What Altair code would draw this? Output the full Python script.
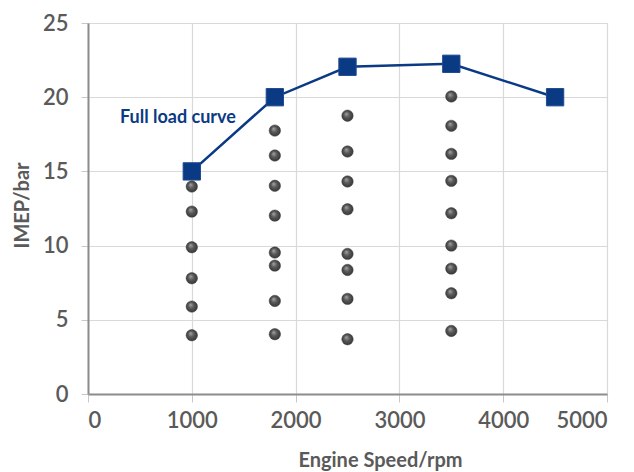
import altair as alt
import pandas as pd

# Operating points (engine speed in rpm, IMEP in bar)
op_speed = [1000, 1000, 1000, 1000, 1000, 1000,
            1800, 1800, 1800, 1800, 1800, 1800, 1800, 1800,
            2500, 2500, 2500, 2500, 2500, 2500, 2500, 2500,
            3500, 3500, 3500, 3500, 3500, 3500, 3500, 3500, 3500]
op_imep = [13.98, 12.29, 9.89, 7.80, 5.89, 3.96,
           17.75, 16.07, 14.03, 12.02, 9.53, 8.65, 6.27, 4.03,
           18.75, 16.34, 14.32, 12.45, 9.44, 8.36, 6.41, 3.69,
           20.05, 18.07, 16.18, 14.36, 12.18, 10.0, 8.45, 6.79, 4.25]

# Full load curve
fl_speed = [1000, 1800, 2500, 3500, 4500]
fl_imep = [15.0, 20.0, 22.05, 22.25, 20.0]

# Annotation
label_text = ["Full load curve"]
label_speed = [308]
label_imep = [18.24]

x_ticks = [0, 1000, 2000, 3000, 4000, 5000]
y_ticks = [0, 5, 10, 15, 20, 25]

NAVY = "#0b3a85"
GRAY_TXT = "#5a5a5a"
FONT = "Lato"

ops = pd.DataFrame({"speed": op_speed, "imep": op_imep})
fl = pd.DataFrame({"speed": fl_speed, "imep": fl_imep})
lab = pd.DataFrame({"speed": label_speed, "imep": label_imep, "text": label_text})

x_enc = alt.X(
    "speed:Q",
    scale=alt.Scale(domain=[0, 5000], nice=False),
    axis=alt.Axis(
        values=x_ticks, title="Engine Speed/rpm", format="d",
        tickSize=8, tickColor="#c8c8c8", tickWidth=1,
        labelFont=FONT, labelFontSize=22, labelColor=GRAY_TXT, labelPadding=8,
        labelFontWeight=600,
        titleFont=FONT, titleFontSize=20, titleFontWeight="bold", titleColor=GRAY_TXT,
        titleX=292, titleY=72, titleAlign="center", titleBaseline="alphabetic",
        domainColor="#8c8c8c", domainWidth=2,
        gridColor="#d9d9d9", gridWidth=1.2,
    ),
)
y_enc = alt.Y(
    "imep:Q",
    scale=alt.Scale(domain=[0, 25], nice=False),
    axis=alt.Axis(
        values=y_ticks, title="IMEP/bar",
        tickSize=7, tickColor="#c8c8c8", tickWidth=1,
        labelFont=FONT, labelFontSize=22, labelColor=GRAY_TXT, labelPadding=13,
        labelFontWeight=600,
        titleFont=FONT, titleFontSize=20, titleFontWeight="bold", titleColor=GRAY_TXT,
        titleX=-60, titleY=182, titleAlign="center", titleBaseline="alphabetic",
        domainColor="#8c8c8c", domainWidth=2,
        gridColor="#d9d9d9", gridWidth=1.2,
    ),
)

sphere = alt.RadialGradient(
    gradient="radial",
    x1=0.38, y1=0.32, r1=0.0,
    x2=0.5, y2=0.5, r2=0.55,
    stops=[
        alt.GradientStop(offset=0, color="#a8a8a8"),
        alt.GradientStop(offset=0.45, color="#5a5a5a"),
        alt.GradientStop(offset=1, color="#333333"),
    ],
)

dots = alt.Chart(ops).mark_point(
    shape="circle", filled=True, size=130, fill=sphere, opacity=1,
    stroke="#3a3a3a", strokeWidth=0.5,
).encode(x=x_enc, y=y_enc)

line = alt.Chart(fl).mark_line(color=NAVY, strokeWidth=2.5).encode(x=x_enc, y=y_enc)

squares = alt.Chart(fl).mark_point(
    shape="square", filled=True, size=300, fill=NAVY, opacity=1,
    stroke="#1f4a90", strokeWidth=1,
).encode(x=x_enc, y=y_enc)

text = alt.Chart(lab).mark_text(
    align="left", baseline="alphabetic", font=FONT, fontSize=18,
    fontWeight="bold", color=NAVY,
).encode(x=x_enc, y=y_enc, text="text:N")

chart = alt.layer(dots, line, squares, text).properties(
    width=519, height=371,
    autosize=alt.AutoSizeParams(type="none"),
    padding={"left": 80, "top": 15, "right": 19, "bottom": 86},
).configure_view(
    stroke="#8c8c8c", strokeWidth=2
).configure(background="white")

chart.save("out.html", embed_options={"renderer": "svg", "actions": False})
